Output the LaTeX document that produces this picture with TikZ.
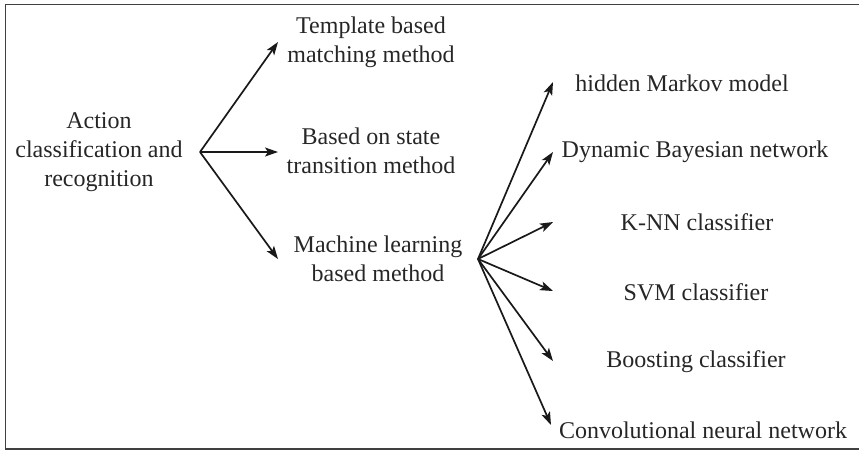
\documentclass[tikz,border=0pt]{standalone}
\usepackage{fontspec}
\setmainfont{Liberation Serif}
\usetikzlibrary{arrows.meta}
\begin{document}
\begin{tikzpicture}[x=1pt,y=-1pt,
  lbl/.style={font=\fontsize{24}{29}\selectfont, align=center, inner sep=0pt, text=black!85},
  arr/.style={line width=1.7pt, black!90, -{Stealth[length=13pt,width=9pt,inset=3pt]}},
  frame/.style={line width=1.8pt, black!75}]
\useasboundingbox (0,0) rectangle (859,451);
\draw[frame] (865,4.5) -- (5.5,4.5) -- (5.5,449) -- (865,449);

\node[lbl] (root) at (99,152) {Action\\classification and\\recognition};
\node[lbl] (tmpl) at (371,42) {Template based\\matching method};
\node[lbl] (state) at (371,151) {Based on state\\transition method};
\node[lbl] (ml) at (378,259) {Machine learning\\based method};

\node[lbl] (hmm) at (682,83) {hidden Markov model};
\node[lbl] (dbn) at (695,152) {Dynamic Bayesian network};
\node[lbl] (knn) at (697,222) {K-NN classifier};
\node[lbl] (svm) at (696,292) {SVM classifier};
\node[lbl] (boost) at (696,362) {Boosting classifier};
\node[lbl] (cnn) at (703,430) {Convolutional neural network};

\coordinate (h1) at (200,152);
\coordinate (t1) at (278,42);
\coordinate (t2) at (278,152);
\coordinate (t3) at (278,259);
\draw[arr] (h1) -- (t1);
\draw[arr] (h1) -- (t2);
\draw[arr] (h1) -- (t3);

\coordinate (h2) at (478,259);
\coordinate (u1) at (553,82);
\coordinate (u2) at (553,152);
\coordinate (u3) at (553,222);
\coordinate (u4) at (553,291);
\coordinate (u5) at (553,361);
\coordinate (u6) at (551,425);
\foreach \t in {u1,u2,u3,u4,u5,u6} \draw[arr] (h2) -- (\t);
\end{tikzpicture}
\end{document}
